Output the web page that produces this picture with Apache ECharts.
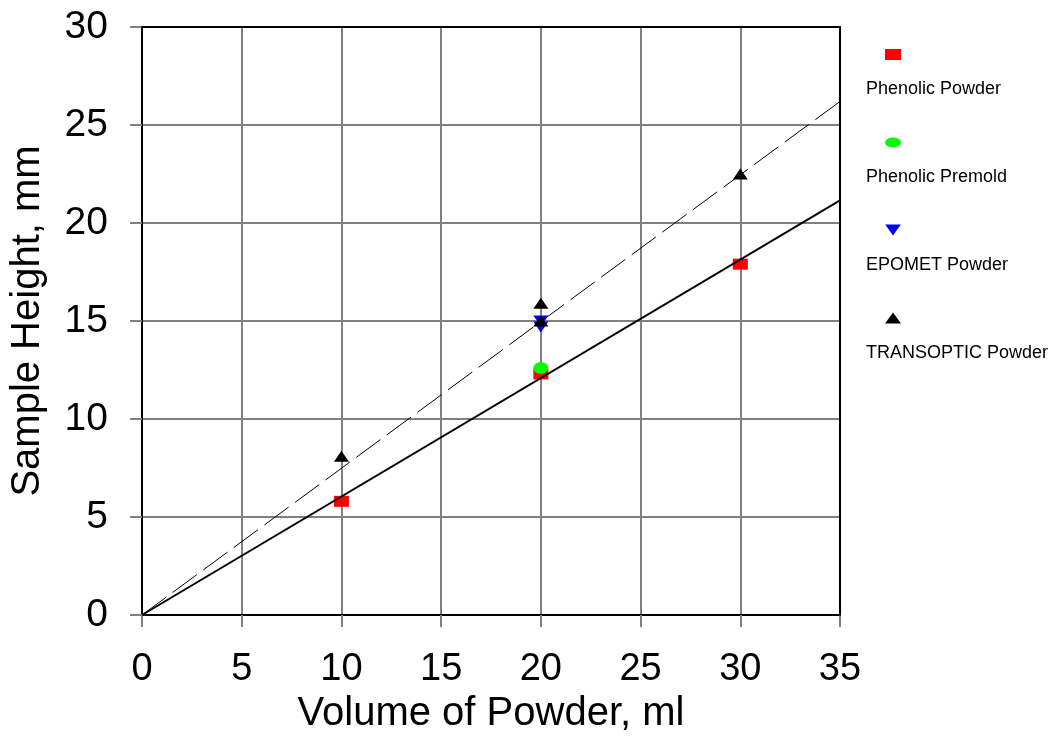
<!DOCTYPE html>
<html>
<head>
<meta charset="utf-8">
<script src="https://cdn.jsdelivr.net/npm/echarts@6/dist/echarts.min.js"></script>
<style>
html,body{margin:0;padding:0;background:#fff;}
#chart{width:1055px;height:740px;}
</style>
</head>
<body>
<div id="chart"></div>
<script>
// ---- data ----
var xTitle = 'Volume of Powder, ml';
var yTitle = 'Sample Height, mm';
var seriesNames = ['Phenolic Powder', 'Phenolic Premold', 'EPOMET Powder', 'TRANSOPTIC Powder'];
var phenolicPowder = [[10, 5.8], [20, 12.3], [30, 17.9]];
var phenolicPremold = [[20, 12.6]];
var epometPowder = [[20, 15.0], [20, 14.7]];
var transopticPowder = [[10, 8.1], [20, 15.9], [20, 15.0], [30, 22.5]];
var trendSolid = [[0, 0], [35, 21.15]];
var trendDashed = [[0, 0], [35, 26.2]];

var triDown = 'path://M0,0 L20,0 L10,14 Z';
var ellipse = 'path://M0,5 A8,5 0 1,0 16,5 A8,5 0 1,0 0,5 Z';
var font = 'Liberation Sans, Arial, sans-serif';

var frameAxis = {
  z: 20,
  axisLine: { show: true, onZero: false, lineStyle: { color: '#000', width: 2 } },
  axisTick: { show: false }, axisLabel: { show: false }, splitLine: { show: false }
};

var chart = echarts.init(document.getElementById('chart'));
var option = {
  animation: false,
  backgroundColor: '#fff',
  grid: { left: 142, right: 215, top: 27, bottom: 125, containLabel: false, outerBoundsMode: 'none' },
  xAxis: [{
    type: 'value', min: 0, max: 35, interval: 5,
    name: xTitle, nameLocation: 'middle', nameGap: 76,
    nameTextStyle: { fontFamily: font, fontSize: 40, color: '#000' },
    axisLine: { show: true, onZero: false, lineStyle: { color: '#000', width: 2 } },
    axisTick: { show: true, inside: false, length: 12, lineStyle: { color: '#808080', width: 2 } },
    axisLabel: { margin: 36, fontFamily: font, fontSize: 38, color: '#000' },
    splitLine: { show: true, lineStyle: { color: '#808080', width: 2 } }
  }, Object.assign({ type: 'value', position: 'top', min: 0, max: 35, interval: 5 }, frameAxis)],
  yAxis: [{
    type: 'value', min: 0, max: 30, interval: 5,
    name: yTitle, nameLocation: 'middle', nameGap: 94,
    nameTextStyle: { fontFamily: font, fontSize: 40, color: '#000' },
    axisLine: { show: true, onZero: false, lineStyle: { color: '#000', width: 2 } },
    axisTick: { show: true, inside: false, length: 12, lineStyle: { color: '#808080', width: 2 } },
    axisLabel: { margin: 34, fontFamily: font, fontSize: 39, color: '#000' },
    splitLine: { show: true, lineStyle: { color: '#808080', width: 2 } }
  }, Object.assign({ type: 'value', position: 'right', min: 0, max: 30, interval: 5 }, frameAxis)],
  legend: {
    orient: 'vertical', left: 880, top: 44, itemGap: 77,
    itemWidth: 16, itemHeight: 11,
    selectedMode: false,
    formatter: function () { return ''; },
    textStyle: { fontSize: 1, color: 'transparent' },
    data: [
      { name: seriesNames[0], icon: 'rect' },
      { name: seriesNames[1], icon: ellipse },
      { name: seriesNames[2], icon: triDown },
      { name: seriesNames[3], icon: 'triangle' }
    ]
  },
  graphic: seriesNames.map(function (n, i) {
    return {
      type: 'text', left: 866, top: 80 + i * 88,
      style: { text: n, fontFamily: font, fontSize: 18, fill: '#000' }
    };
  }),
  series: [
    { name: seriesNames[0], type: 'scatter', data: phenolicPowder, symbol: 'rect', symbolSize: [15, 11],
      itemStyle: { color: '#ff0000', opacity: 1 }, z: 3 },
    { name: seriesNames[1], type: 'scatter', data: phenolicPremold, symbol: ellipse, symbolSize: [15, 12],
      itemStyle: { color: '#00ff00', opacity: 1 }, z: 3 },
    { name: seriesNames[2], type: 'scatter', data: epometPowder, symbol: triDown, symbolSize: [15, 11],
      itemStyle: { color: '#0000ff', opacity: 1 }, z: 3 },
    { name: seriesNames[3], type: 'scatter', data: transopticPowder, symbol: 'triangle', symbolSize: [15, 11],
      itemStyle: { color: '#000000', opacity: 1 }, z: 3 },
    { name: 'trendSolid', type: 'line', data: trendSolid, showSymbol: false, symbol: 'none',
      lineStyle: { color: '#000', width: 2 }, z: 4, silent: true },
    { name: 'trendDashed', type: 'line', data: trendDashed, showSymbol: false, symbol: 'none',
      lineStyle: { color: '#000', width: 1, type: [30, 8] }, z: 4, silent: true }
  ]
};
chart.setOption(option);
</script>
</body>
</html>
